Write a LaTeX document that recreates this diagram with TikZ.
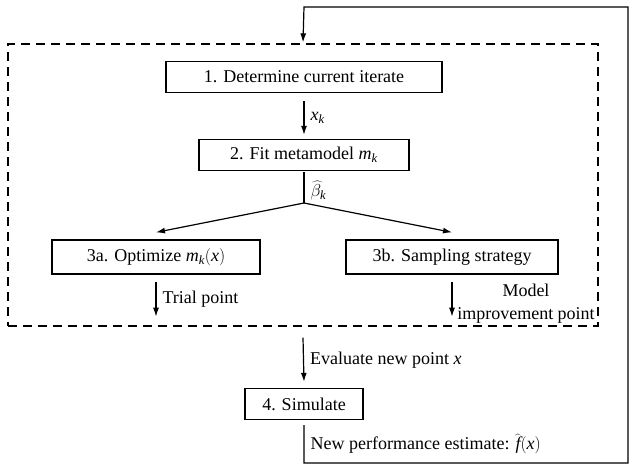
\documentclass[tikz,border=0pt]{standalone}
\usepackage{fontspec}
\setmainfont{Liberation Serif}
\usetikzlibrary{arrows.meta, positioning}

\begin{document}
\begin{tikzpicture}[x=1pt, y=-1pt,
  stepbox/.style={draw, line width=1.3pt, minimum height=31pt, inner sep=0pt,
                  font=\fontsize{18}{22}\selectfont},
  lbl/.style={font=\fontsize{18}{23}\selectfont, inner sep=0pt},
  arr/.style={-{Latex[length=9pt,width=6pt]}, line width=1.2pt},
  lnk/.style={line width=1.2pt}
]
\useasboundingbox (0,0) rectangle (630,464);

% dashed frame round steps 1--3
\node[draw, dash pattern=on 9pt off 6pt, line width=1.2pt, inner sep=0pt,
      minimum width=590pt, minimum height=282pt] (loop) at (303,185) {};

% steps
\node[stepbox, minimum width=276pt] (det) at (304,77) {1. Determine current iterate};
\node[stepbox, minimum width=210pt] (fit) at (304,155) {2. Fit metamodel $\mathit{m}_{\mathit{k}}$};
\node[stepbox, minimum width=208pt, minimum height=34pt] (opt) at (156,257) {3a. Optimize $\mathit{m}_{\mathit{k}}(\mathit{x})$};
\node[stepbox, minimum width=212pt, minimum height=34pt] (samp) at (452,257) {3b. Sampling strategy};
\node[stepbox, minimum width=118pt] (sim) at (304,404) {4. Simulate};

% branch point and loose arrow ends
\coordinate (split) at (304,203);
\coordinate[below=42pt of opt.south] (trialend);
\coordinate[below=42pt of samp.south] (modend);
% corners of the feedback loop
\coordinate (fb1) at (304,463);
\coordinate (fb2) at (628,463);
\coordinate (fb3) at (628,7);
\coordinate (fb4) at (304,7);

% flow
\draw[arr] ([yshift=-8pt]det.south) -- ([yshift=4pt]fit.north)
  node[lbl, midway, right=6pt] {$\mathit{x}_{\mathit{k}}$};
\draw[lnk] ([yshift=-1pt]fit.south) -- (split)
  node[lbl, pos=0.6, right=6pt] {$\widehat{\beta}_{\mathit{k}}$};
\draw[arr] (split) -- ([yshift=7pt]opt.north);
\draw[arr] (split) -- ([yshift=7pt]samp.north);
\draw[arr] ([yshift=-7pt]opt.south) -- (trialend)
  node[lbl, midway, right=6pt] {Trial point};
\draw[arr] ([yshift=-7pt]samp.south) -- (modend);
\node[lbl, align=center] (modlbl) at (526,304) {Model\\improvement point};
\draw[arr] ([yshift=-11pt]loop.south) -- ([yshift=6pt]sim.north)
  node[lbl, midway, right=6pt] {Evaluate new point $\mathit{x}$};

% feedback to step 1
\draw[arr] ([yshift=-5pt]sim.south)
  -- node[lbl, right=6pt] {New performance estimate: $\widehat{\mathit{f}}(\mathit{x})$} (fb1)
  -- (fb2) -- (fb3) -- (fb4) -- ([yshift=1pt]loop.north);
\end{tikzpicture}
\end{document}
